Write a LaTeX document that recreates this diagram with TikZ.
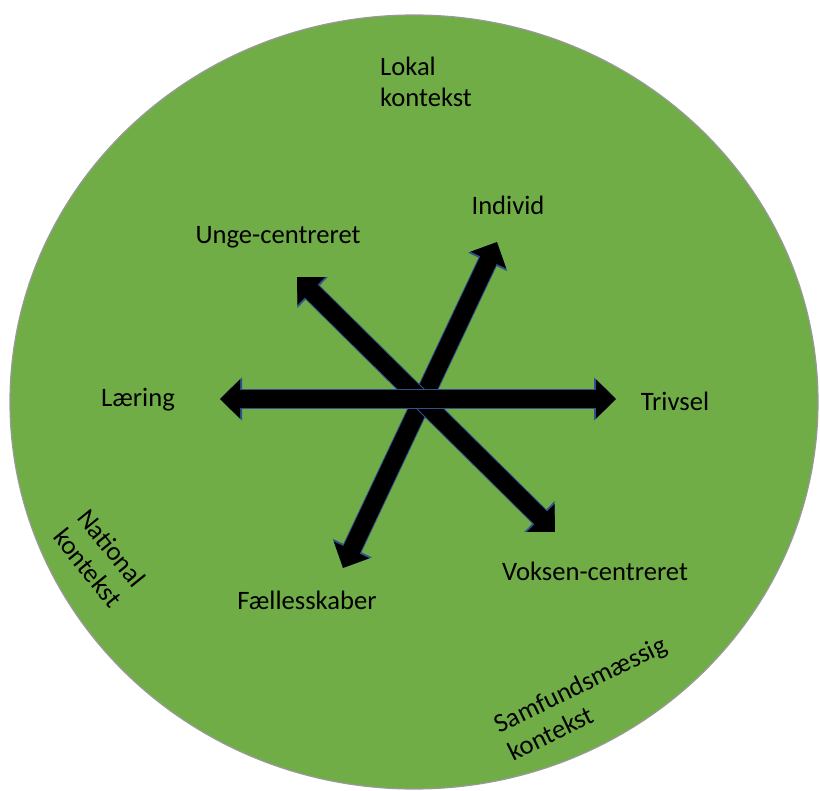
\documentclass[tikz,border=0pt]{standalone}
\usepackage{fontspec}
\setmainfont{Carlito}
\usepackage{tikz}
\usetikzlibrary{arrows.meta}
\usetikzlibrary{positioning}

\definecolor{ringgreen}{HTML}{70AD47}
\definecolor{arrowedge}{HTML}{2F528F}

\tikzset{
  label text/.style={font=\fontsize{13.3}{15.5}\selectfont, text=black, inner sep=0pt},
  context text/.style={label text, align=left},
  block arrow/.style={line width=9pt, draw=black,
    {Triangle[width=19pt,length=10pt]}-{Triangle[width=19pt,length=10pt]},
    preaction={draw=arrowedge, line width=10pt,
      {Triangle[width=21pt,length=11pt]}-{Triangle[width=21pt,length=11pt]}}}
}

\begin{document}
\begin{tikzpicture}[x=0.5pt, y=-0.5pt]
            \useasboundingbox (0,0) rectangle (820,791);

            % Context circle
            \draw [fill=ringgreen, draw=gray!80, line width=0.6pt] (414,402) ellipse [x radius=404, y radius=387];

            % Arrow end points
            \coordinate (laering_end) at (220,399);
            \coordinate (trivsel_end) at (616,399);
            \coordinate (individ_end) at (497,242);
            \coordinate (faelles_end) at (343,568);
            \coordinate (unge_end) at (297,277);
            \coordinate (voksen_end) at (555,532);

            % Three double arrows
            \draw [block arrow] (faelles_end) -- (individ_end);
            \draw [block arrow] (unge_end) -- (voksen_end);
            \draw [block arrow] (laering_end) -- (trivsel_end);

            % Axis labels
            \node [label text] (individ) at (508,205) {Individ};
            \node [label text] (unge) at (278,237) {Unge-centreret};
            \node [label text] (laering) at (138,400) {Læring};
            \node [label text] (trivsel) at (675,401) {Trivsel};
            \node [label text] (voksen) at (595,571) {Voksen-centreret};
            \node [label text] (faelles) at (307,600) {Fællesskaber};

            % Context labels
            \node [context text] (lokal) at (426,82) {Lokal\\kontekst};
            \node [context text, rotate=-51] (national) at (100,558) {National\\kontekst};
            \node [context text, rotate=26] (samfund) at (587,698) {Samfundsmæssig\\kontekst};
        \end{tikzpicture}
\end{document}
